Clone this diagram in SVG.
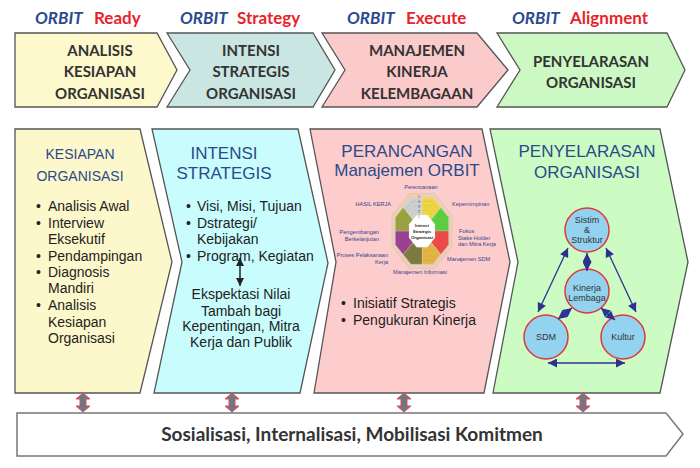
<svg xmlns="http://www.w3.org/2000/svg" width="700" height="468" viewBox="0 0 700 468">
<defs>
<style>
.ttl{font-family:Lato,"Open Sans",sans-serif;font-weight:bold;font-size:17px}
.orb{fill:#2b4a8f;font-style:italic}
.red{fill:#e8232a}
.hd{font-family:Lato,"Open Sans",sans-serif;font-weight:bold;font-size:15px;fill:#333;text-anchor:middle}
.chev{stroke:#555;stroke-width:1.3}
.pt{font-family:"Liberation Sans",Arial,sans-serif;fill:#2a4a8a;text-anchor:middle}
.bd{font-family:"Liberation Sans",Arial,sans-serif;font-size:14px;fill:#222}
.ol{font-family:"Liberation Sans",Arial,sans-serif;font-size:5.6px;fill:#34468a}
.ct{font-family:"Liberation Sans",Arial,sans-serif;font-size:9px;fill:#333;text-anchor:middle}
.circ{fill:#93d3f0;stroke:#e0383c;stroke-width:1.5}
.nv{stroke:#2e3192;stroke-width:1.3;fill:none;marker-start:url(#nav);marker-end:url(#nav)}
.ga{fill:#6b7886;stroke:#e84850;stroke-width:1}
</style>
<marker id="nav" viewBox="0 0 10 10" refX="10" refY="5" markerWidth="10" markerHeight="9" markerUnits="userSpaceOnUse" orient="auto-start-reverse"><path d="M0,0 L10,5 L0,10 z" fill="#2e3192"/></marker>
<marker id="blk" viewBox="0 0 10 10" refX="10" refY="5" markerWidth="8" markerHeight="8" markerUnits="userSpaceOnUse" orient="auto-start-reverse"><path d="M0,0 L10,5 L0,10 z" fill="#222"/></marker>
</defs>
<rect width="700" height="468" fill="#fff"/>

<!-- titles -->
<g id="titles" class="ttl">
<text x="35" y="24" class="orb">ORBIT</text><text x="94" y="24" class="red">Ready</text>
<text x="180" y="24" class="orb">ORBIT</text><text x="237" y="24" class="red">Strategy</text>
<text x="347" y="24" class="orb">ORBIT</text><text x="406" y="24" class="red">Execute</text>
<text x="512" y="24" class="orb">ORBIT</text><text x="570" y="24" class="red">Alignment</text>
</g>

<!-- header chevrons -->
<g id="h1"><polygon class="chev" fill="#fdf9cc" points="15,33 157,33 177,70 157,107 15,107"/>
<text class="hd" x="100" y="56">ANALISIS</text><text class="hd" x="100" y="77">KESIAPAN</text><text class="hd" x="100" y="99">ORGANISASI</text></g>
<g id="h2"><polygon class="chev" fill="#c9e6e2" points="167,33 313,33 335,70 313,107 167,107 190,70"/>
<text class="hd" x="251" y="56">INTENSI</text><text class="hd" x="251" y="77">STRATEGIS</text><text class="hd" x="251" y="99">ORGANISASI</text></g>
<g id="h3"><polygon class="chev" fill="#fbcaca" points="322,33 477,33 508,70 477,107 322,107 345,70"/>
<text class="hd" x="417" y="56">MANAJEMEN</text><text class="hd" x="417" y="77">KINERJA</text><text class="hd" x="417" y="99">KELEMBAGAAN</text></g>
<g id="h4"><polygon class="chev" fill="#ccf8c4" points="497,33 667,33 685,70 667,107 497,107 520,70"/>
<text class="hd" x="591" y="67">PENYELARASAN</text><text class="hd" x="591" y="88">ORGANISASI</text></g>

<!-- panel 1 -->
<g id="p1"><polygon class="chev" fill="#fdf8cc" points="15,129 140,129 172,262 140,393 15,393"/>
<text class="pt" font-size="14" x="80" y="159">KESIAPAN</text><text class="pt" font-size="14" x="80" y="181">ORGANISASI</text>
<g class="bd">
<text x="36" y="211">•</text><text x="48" y="211">Analisis Awal</text>
<text x="36" y="228">•</text><text x="48" y="228">Interview</text>
<text x="48" y="244">Eksekutif</text>
<text x="36" y="261">•</text><text x="48" y="261">Pendampingan</text>
<text x="36" y="277">•</text><text x="48" y="277">Diagnosis</text>
<text x="48" y="293">Mandiri</text>
<text x="36" y="310">•</text><text x="48" y="310">Analisis</text>
<text x="48" y="327">Kesiapan</text>
<text x="48" y="343">Organisasi</text>
</g></g>

<!-- panel 2 -->
<g id="p2"><polygon class="chev" fill="#c9fdfd" points="152,129 298,129 328,263 300,393 154,393 182,262"/>
<text class="pt" font-size="17" x="224" y="159">INTENSI</text><text class="pt" font-size="17" x="224" y="179">STRATEGIS</text>
<g class="bd">
<text x="186" y="211">•</text><text x="197" y="211">Visi, Misi, Tujuan</text>
<text x="186" y="228">•</text><text x="197" y="228">Dstrategi/</text>
<text x="197" y="244">Kebijakan</text>
<text x="186" y="261">•</text><text x="197" y="261">Program, Kegiatan</text>
<g text-anchor="middle">
<text x="241" y="299">Ekspektasi Nilai</text>
<text x="241" y="316">Tambah bagi</text>
<text x="241" y="331">Kepentingan, Mitra</text>
<text x="241" y="347">Kerja dan Publik</text>
</g></g></g>

<!-- panel 3 -->
<g id="p3"><polygon class="chev" fill="#fdcccc" points="310,129 482,129 510,262 484,393 314,393 336,262"/>
<text class="pt" font-size="17" x="407" y="157">PERANCANGAN</text><text class="pt" font-size="17" x="407" y="176">Manajemen ORBIT</text>
<g id="octagon">
<g transform="translate(422,231) scale(1,1.25)">
<polygon points="29.56,12.25 12.25,29.56 -12.25,29.56 -29.56,12.25 -29.56,-12.25 -12.25,-29.56 12.25,-29.56 29.56,-12.25" fill="#f3d4c4" stroke="#e9cbb0" stroke-width="2"/>
<g transform="scale(0.9)" stroke="#ffffff" stroke-opacity="0.4" stroke-width="0.5">
<polygon points="0,0 0,-29.56 -12.25,-29.56 -20.9,-20.9" fill="#cfcfcf"/>
<polygon points="0,0 0,-29.56 12.25,-29.56 20.9,-20.9" fill="#f0d640"/>
<polygon points="0,0 20.9,-20.9 29.56,-12.25 29.56,0" fill="#5ccf3e"/>
<polygon points="0,0 29.56,0 29.56,12.25 20.9,20.9" fill="#ef4848"/>
<polygon points="0,0 20.9,20.9 12.25,29.56 0,29.56" fill="#e3b443"/>
<polygon points="0,0 0,29.56 -12.25,29.56 -20.9,20.9" fill="#7c7a3c"/>
<polygon points="0,0 -20.9,20.9 -29.56,12.25 -29.56,0" fill="#9a3f92"/>
<polygon points="0,0 -29.56,0 -29.56,-12.25 -20.9,-20.9" fill="#9aa23e"/>
</g>
<g fill="none" stroke="#888" stroke-opacity="0.5" stroke-width="0.4">
<polygon transform="scale(0.8)" points="29.56,12.25 12.25,29.56 -12.25,29.56 -29.56,12.25 -29.56,-12.25 -12.25,-29.56 12.25,-29.56 29.56,-12.25"/>
<polygon transform="scale(0.68)" points="29.56,12.25 12.25,29.56 -12.25,29.56 -29.56,12.25 -29.56,-12.25 -12.25,-29.56 12.25,-29.56 29.56,-12.25"/>
<polygon transform="scale(0.56)" points="29.56,12.25 12.25,29.56 -12.25,29.56 -29.56,12.25 -29.56,-12.25 -12.25,-29.56 12.25,-29.56 29.56,-12.25"/>
<polygon points="29.56,12.25 12.25,29.56 -12.25,29.56 -29.56,12.25 -29.56,-12.25 -12.25,-29.56 12.25,-29.56 29.56,-12.25" transform="scale(0.92)"/>
</g>
<polygon transform="scale(0.44)" points="29.56,12.25 12.25,29.56 -12.25,29.56 -29.56,12.25 -29.56,-12.25 -12.25,-29.56 12.25,-29.56 29.56,-12.25" fill="#fff" stroke="#bbb" stroke-width="0.6"/>
</g>
<g font-family="Liberation Sans,Arial,sans-serif" font-size="4.3" font-weight="bold" fill="#222" text-anchor="middle">
<text x="422" y="227">Intensi</text><text x="422" y="233">Strategis</text><text x="422" y="239">Organisasi</text>
</g>
<g font-family="Liberation Sans,Arial,sans-serif" font-size="3.6" fill="#555" text-anchor="end">
<text x="420" y="198">5</text><text x="420" y="203">4</text><text x="420" y="208">3</text><text x="420" y="213">2</text><text x="420" y="218">1</text>
</g>
</g>
<g class="ol">
<text x="421" y="189" text-anchor="middle">Perencanaan</text>
<text x="452" y="206">Kepemimpinan</text>
<text x="391" y="206" text-anchor="end">HASIL KERJA</text>
<text x="379" y="234" text-anchor="end">Pengembangan</text>
<text x="379" y="241" text-anchor="end">Berkelanjutan</text>
<text x="459" y="233">Fokus</text>
<text x="458" y="240">Stake Holder</text>
<text x="458" y="246">dan Mitra Kerja</text>
<text x="447" y="261">Manajemen SDM</text>
<text x="388" y="257" text-anchor="end">Proses Pelaksanaan</text>
<text x="388" y="264" text-anchor="end">Kerja</text>
<text x="420" y="274" text-anchor="middle">Manajemen Informasi</text>
</g>
<g class="bd" font-size="14.5">
<text x="341" y="308">•</text><text x="353" y="308">Inisiatif Strategis</text>
<text x="341" y="325">•</text><text x="353" y="325">Pengukuran Kinerja</text>
</g></g>

<!-- panel 4 -->
<g id="p4"><polygon class="chev" fill="#ccfcc4" points="490,129 660,129 688,262 660,393 493,393 518,262"/>
<text class="pt" font-size="17" x="587" y="157">PENYELARASAN</text><text class="pt" font-size="17" x="587" y="178">ORGANISASI</text></g>

<g id="n-sistim"><circle class="circ" cx="587" cy="230" r="22"/>
<text class="ct" x="587" y="223">Sistim</text><text class="ct" x="587" y="233">&amp;</text><text class="ct" x="587" y="243">Struktur</text></g>
<g id="n-kinerja"><circle class="circ" cx="587" cy="291" r="22"/>
<text class="ct" x="587" y="291">Kinerja</text><text class="ct" x="587" y="301">Lembaga</text></g>
<g id="n-sdm"><circle class="circ" cx="546" cy="337" r="22"/>
<text class="ct" x="546" y="340">SDM</text></g>
<g id="n-kultur"><circle class="circ" cx="623" cy="337" r="22"/>
<text class="ct" x="623" y="340">Kultur</text></g>

<!-- connectors -->
<g id="connectors">
<line x1="240" y1="258" x2="240" y2="286" stroke="#222" stroke-width="1.5" marker-start="url(#blk)" marker-end="url(#blk)"/>
<line class="nv" x1="568" y1="248" x2="538" y2="312"/>
<line class="nv" x1="606" y1="248" x2="636" y2="312"/>
<line class="nv" x1="548" y1="363" x2="625" y2="363"/>
<line class="nv" x1="587" y1="253" x2="587" y2="271"/>
<line class="nv" x1="572" y1="308" x2="558" y2="319"/>
<line class="nv" x1="601" y1="308" x2="615" y2="320"/>
<path class="ga" d="M83,393 L90,399 L86,399 L86,406 L90,406 L83,412 L76,406 L80,406 L80,399 L76,399 Z"/>
<path class="ga" d="M232,393 L239,399 L235,399 L235,406 L239,406 L232,412 L225,406 L229,406 L229,399 L225,399 Z"/>
<path class="ga" d="M404,393 L411,399 L407,399 L407,406 L411,406 L404,412 L397,406 L401,406 L401,399 L397,399 Z"/>
<path class="ga" d="M583,393 L590,399 L586,399 L586,406 L590,406 L583,412 L576,406 L580,406 L580,399 L576,399 Z"/>
</g>

<!-- bottom bar -->
<g id="bottom"><polygon points="17,413 666,413 683,434 666,456 17,456" fill="#fff" stroke="#777" stroke-width="1.5"/>
<text x="352" y="441" text-anchor="middle" font-family="Lato,'Open Sans',sans-serif" font-weight="bold" font-size="19" fill="#333">Sosialisasi, Internalisasi, Mobilisasi Komitmen</text></g>
</svg>
